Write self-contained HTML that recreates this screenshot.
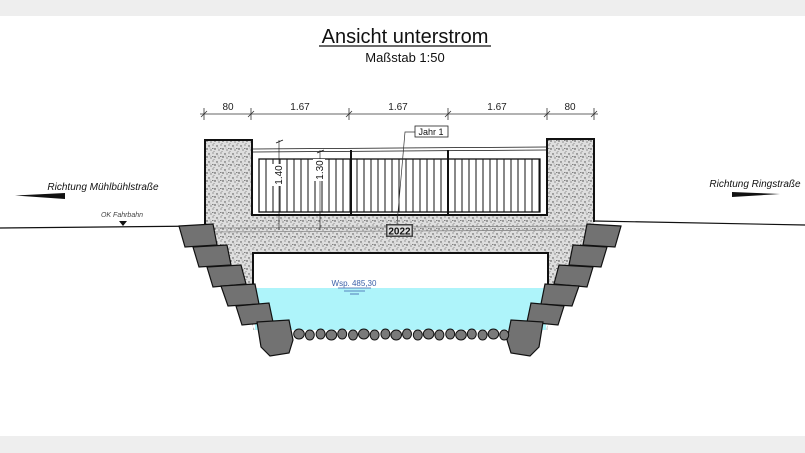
<!DOCTYPE html>
<html><head><meta charset="utf-8"><style>
html,body{margin:0;padding:0;background:#fff;}
svg{display:block;}
text{font-family:"Liberation Sans",sans-serif;}
</style></head><body>
<svg id="s" width="805" height="453" viewBox="0 0 805 453" xmlns="http://www.w3.org/2000/svg">
<defs>
<pattern id="conc" width="8" height="8" patternUnits="userSpaceOnUse">
<rect width="8" height="8" fill="#dedede"/>
<circle cx="1" cy="2" r="0.7" fill="#444"/><circle cx="5" cy="1" r="0.6" fill="#666"/>
<circle cx="7" cy="5" r="0.7" fill="#333"/><circle cx="3" cy="6" r="0.6" fill="#555"/>
<circle cx="6" cy="7.5" r="0.5" fill="#777"/><circle cx="2" cy="4" r="0.4" fill="#555"/>
<rect x="4" y="4" width="1.5" height="0.7" fill="#555"/>
</pattern>
</defs>
<rect x="0" y="0" width="805" height="16" fill="#eeeeee"/>
<rect x="0" y="436" width="805" height="17" fill="#eeeeee"/>

<text x="405" y="43" font-size="20" text-anchor="middle" fill="#111">Ansicht unterstrom</text>
<line x1="319" y1="46" x2="491" y2="46" stroke="#111" stroke-width="1.3"/>
<text x="405" y="62" font-size="13" text-anchor="middle" fill="#111">Maßstab 1:50</text>

<g stroke="#333" stroke-width="0.8" fill="none">
<line x1="200" y1="114" x2="598" y2="114"/>
<g id="ticks"></g>
</g>
<g font-size="10" fill="#222" text-anchor="middle">
<text x="228" y="110">80</text><text x="300" y="110">1.67</text><text x="398" y="110">1.67</text>
<text x="497" y="110">1.67</text><text x="570" y="110">80</text>
</g>

<line x1="0" y1="228" x2="206" y2="226" stroke="#111" stroke-width="1.2"/>
<line x1="594" y1="221" x2="805" y2="225" stroke="#111" stroke-width="1.2"/>
<text x="103" y="190" font-size="10" font-style="italic" fill="#111" text-anchor="middle">Richtung Mühlbühlstraße</text>
<polygon points="15,195.5 65,193 65,199" fill="#111"/>
<text x="755" y="187" font-size="10" font-style="italic" fill="#111" text-anchor="middle">Richtung Ringstraße</text>
<polygon points="732,192 780,194 732,197" fill="#111"/>
<text x="122" y="217" font-size="7" font-style="italic" fill="#444" text-anchor="middle">OK Fahrbahn</text>
<polygon points="119,221 127,221 123,226" fill="#111"/>

<path d="M205,140 L252,140 L252,215 L547,215 L547,139 L594,139 L594,226 L610,226 L545,330 L548,330 L548,253 L253,253 L253,330 L255,330 L190,226 L205,226 Z" fill="url(#conc)"/>
<path d="M205,226 L205,140 L252,140 L252,215 L547,215 L547,139 L594,139 L594,222" fill="none" stroke="#111" stroke-width="2"/>
<path d="M253,290 L253,253 L548,253 L548,290" fill="none" stroke="#111" stroke-width="2"/>
<line x1="205" y1="228" x2="594" y2="226" stroke="#888" stroke-width="0.8"/>
<line x1="205" y1="232" x2="594" y2="230" stroke="#888" stroke-width="0.8"/>

<rect x="255" y="288" width="291" height="42" fill="#aef4fa"/>
<text x="354" y="286" font-size="8" fill="#3a5fa8" text-anchor="middle">Wsp. 485,30</text>
<line x1="338" y1="288" x2="371" y2="288" stroke="#3a5fa8" stroke-width="0.8"/>
<line x1="344" y1="291" x2="365" y2="291" stroke="#3a5fa8" stroke-width="0.8"/>
<line x1="350" y1="294" x2="359" y2="294" stroke="#3a5fa8" stroke-width="0.8"/>

<g stroke="#111" fill="none">
<line x1="253" y1="149" x2="546" y2="147" stroke-width="0.8"/>
<line x1="253" y1="152" x2="546" y2="150" stroke-width="0.8"/>
<rect x="259" y="159" width="281" height="53" stroke-width="1.3"/>
<g id="bars" stroke-width="1"></g>
<line x1="351" y1="150" x2="351" y2="215" stroke-width="2"/>
<line x1="448" y1="150" x2="448" y2="215" stroke-width="2"/>
<line x1="279" y1="140" x2="279" y2="230" stroke-width="0.6"/>
<line x1="320" y1="150" x2="320" y2="230" stroke-width="0.6"/>
<line x1="276" y1="143" x2="283" y2="140" stroke-width="0.8"/>
<line x1="317" y1="153" x2="324" y2="150" stroke-width="0.8"/>
</g>
<rect x="272" y="164" width="12" height="22" fill="#fff"/>
<rect x="313" y="159" width="12" height="22" fill="#fff"/>
<text transform="translate(282,175) rotate(-90)" font-size="10" text-anchor="middle" fill="#111">1.40</text>
<text transform="translate(323,170) rotate(-90)" font-size="10" text-anchor="middle" fill="#111">1.30</text>

<polyline points="415,132 405,132 397,224" fill="none" stroke="#333" stroke-width="0.7"/>
<rect x="415" y="126" width="33" height="11" fill="#fff" stroke="#222" stroke-width="0.8"/>
<text x="431" y="135" font-size="9" text-anchor="middle" fill="#111">Jahr 1</text>
<rect x="386" y="224" width="27" height="13" fill="#444"/>
<rect x="387.5" y="225.5" width="24" height="10" fill="#ddd"/>
<text x="399.5" y="234.5" font-size="10" font-weight="bold" text-anchor="middle" fill="#111">2022</text>

<g id="stones" fill="#727272" stroke="#111" stroke-width="1.2"></g>
<g id="cob" fill="#7a7a7a" stroke="#111" stroke-width="1"></g>
</svg>
<script>
var NS="http://www.w3.org/2000/svg";
function el(p,t,a){var e=document.createElementNS(NS,t);for(var k in a)e.setAttribute(k,a[k]);document.getElementById(p).appendChild(e);}
[204,251,349,448,547,594].forEach(function(x){el("ticks","line",{x1:x,y1:108,x2:x,y2:120});el("ticks","line",{x1:x-3,y1:117,x2:x+3,y2:111});});
for(var x=266;x<540;x+=7)el("bars","line",{x1:x,y1:159,x2:x,y2:212});
var L=[[[179,226],[213,224],[217,245],[185,247]],[[193,247],[227,245],[231,265],[199,267]],[[207,267],[241,265],[246,284],[213,287]],[[221,286],[255,284],[259,304],[228,306]],[[236,306],[269,303],[273,322],[242,325]],[[257,322],[289,320],[293,340],[289,353],[270,356],[261,347]]];
L.forEach(function(s){el("stones","polygon",{points:s.map(function(p){return p.join(",")}).join(" ")});el("stones","polygon",{points:s.map(function(p){return (800-p[0])+","+p[1]}).join(" ")});});
var i=0;for(var x=299;x<506;x+=10.8){var r=(i%3==0)?5.3:4.5;el("cob","ellipse",{cx:x,cy:334+(i%2),rx:r,ry:5});i++;}
</script>
</body></html>
